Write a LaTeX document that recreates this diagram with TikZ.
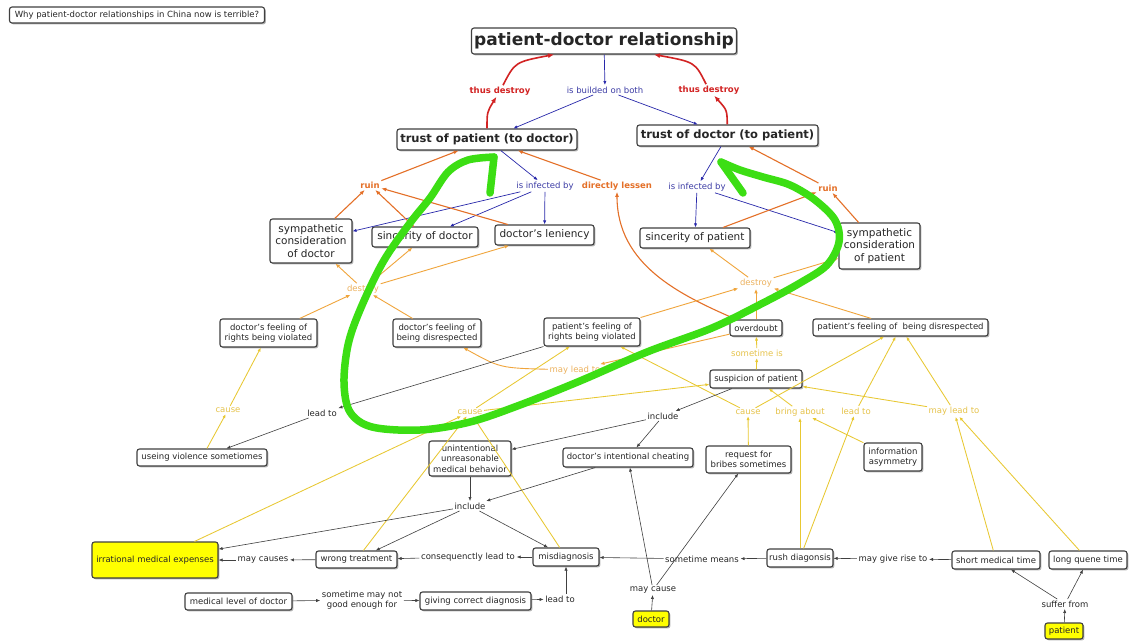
\documentclass[tikz,border=0pt]{standalone}
\usepackage{fontspec}
\setmainfont{DejaVu Sans}
\usetikzlibrary{arrows.meta,shadows,calc}
\definecolor{blueC}{RGB}{40,40,170}
\definecolor{blueT}{RGB}{60,60,165}
\definecolor{redC}{RGB}{210,35,35}
\definecolor{orC}{RGB}{228,112,40}
\definecolor{loC}{RGB}{240,165,60}
\definecolor{loT}{RGB}{236,178,95}
\definecolor{yC}{RGB}{232,200,50}
\definecolor{yT}{RGB}{230,195,75}
\definecolor{gC}{RGB}{60,222,20}
\definecolor{yfill}{RGB}{255,255,0}
\tikzset{
  box/.style={draw=black!75, line width=1.1pt, rounded corners=2.5pt, fill=white, align=center,
    inner sep=1pt, text=black!85, font=\fontsize{8.5}{10.5}\selectfont,
    drop shadow={shadow xshift=1.4pt, shadow yshift=-1.4pt, opacity=0.3, fill=black}},
  bigbox/.style={box, font=\fontsize{10.5}{12.6}\selectfont},
  tbox/.style={box, font=\bfseries\fontsize{11.5}{13}\selectfont},
  ybox/.style={box, fill=yfill},
  lab/.style={inner sep=1.5pt, align=center, font=\fontsize{8.5}{10}\selectfont, text=black!85},
  con/.style={-{Latex[length=4pt,width=3.2pt]}, line width=0.6pt},
  bl/.style={con, draw=blueC, line width=0.7pt},
  rdl/.style={draw=redC, line width=1.6pt, -{Latex[length=6pt,width=5pt]}},
  orl/.style={draw=orC, line width=1.1pt, -{Latex[length=5pt,width=4pt]}},
  lol/.style={draw=loC, line width=0.9pt, -{Latex[length=4.5pt,width=3.6pt]}},
  yl/.style={con, draw=yC, line width=0.85pt},
  bk/.style={con, draw=black!75},
  gs/.style={draw=gC, line width=7.5pt, line cap=round, line join=round}
}
\begin{document}
\begin{tikzpicture}[x=1pt,y=-1pt]
\useasboundingbox (0,0) rectangle (1129,640);
\fill[white] (0,0) rectangle (1129,640);

% ---------- concept boxes ----------
\node[box, minimum width=255pt, minimum height=16pt] (title) at (137,15) {Why patient-doctor relationships in China now is terrible?};
\node[box, minimum width=265pt, minimum height=26pt, font=\bfseries\fontsize{17}{19}\selectfont] (pdr) at (604,41) {patient-doctor relationship};
\node[tbox, minimum width=180pt, minimum height=21pt] (tp) at (487,139.5) {trust of patient (to doctor)};
\node[tbox, minimum width=181pt, minimum height=21pt] (td) at (727.5,135.5) {trust of doctor (to patient)};
\node[bigbox, minimum width=82pt, minimum height=44pt] (scd) at (311,241) {sympathetic\\consideration\\of doctor};
\node[bigbox, minimum width=106pt, minimum height=20pt] (sd) at (425,237) {sincerity of doctor};
\node[bigbox, minimum width=99pt, minimum height=20pt] (dl) at (544.5,235) {doctor's leniency};
\node[bigbox, minimum width=110pt, minimum height=20pt] (sp) at (695,238) {sincerity of patient};
\node[bigbox, minimum width=81pt, minimum height=46pt] (scp) at (879.5,246) {sympathetic\\consideration\\of patient};
\node[box, minimum width=97pt, minimum height=28pt] (dfrv) at (268.5,333) {doctor's feeling of\\rights being violated};
\node[box, minimum width=88pt, minimum height=28pt] (dfd) at (437,333) {doctor's feeling of\\being disrespected};
\node[box, minimum width=96pt, minimum height=28pt] (pfrv) at (592,332) {patient's feeling of\\rights being violated};
\node[box, minimum width=52pt, minimum height=16pt] (od) at (756,328) {overdoubt};
\node[box, minimum width=175pt, minimum height=17pt] (pfd) at (900.5,327.5) {patient's feeling of\ \ being disrespected};
\node[box, minimum width=92pt, minimum height=18pt] (sop) at (756,379) {suspicion of patient};
\node[box, minimum width=130pt, minimum height=17pt] (uvs) at (202,457.5) {useing violence sometiomes};
\node[box, minimum width=82pt, minimum height=35pt] (uumb) at (470,458.5) {unintentional\\unreasonable\\medical behavior};
\node[box, minimum width=130pt, minimum height=19pt] (dic) at (628,457.5) {doctor's intentional cheating};
\node[box, minimum width=85pt, minimum height=27pt] (rfb) at (748.5,459.5) {request for\\bribes sometimes};
\node[box, minimum width=58pt, minimum height=28pt] (ia) at (893,457) {information\\asymmetry};
\node[ybox, minimum width=126pt, minimum height=36pt] (ime) at (155,560) {irrational medical expenses};
\node[box, minimum width=81pt, minimum height=17pt] (wt) at (356.5,559.5) {wrong treatment};
\node[box, minimum width=66pt, minimum height=18pt] (md) at (566,557) {misdiagnosis};
\node[box, minimum width=66pt, minimum height=18pt] (rd) at (800,558) {rush diagonsis};
\node[box, minimum width=88pt, minimum height=18pt] (smt) at (996,560) {short medical time};
\node[box, minimum width=78pt, minimum height=18pt] (lqt) at (1088,560) {long quene time};
\node[box, minimum width=107pt, minimum height=17pt] (mld) at (238.5,601.5) {medical level of doctor};
\node[box, minimum width=111pt, minimum height=18pt] (gcd) at (475.5,601) {giving correct diagnosis};
\node[ybox, minimum width=36pt, minimum height=16pt] (doc) at (651,619) {doctor};
\node[ybox, minimum width=38pt, minimum height=16pt] (pat) at (1064,631) {patient};

% ---------- linking phrases ----------
\node[lab, text=blueT] (built) at (605,90) {is builded on both};
\node[lab, text=redC, font=\bfseries\fontsize{8.5}{10}\selectfont] (tdl) at (500,91) {thus destroy};
\node[lab, text=redC, font=\bfseries\fontsize{8.5}{10}\selectfont] (tdr) at (709,90) {thus destroy};
\node[lab, text=blueT] (infl) at (545,186) {is infected by};
\node[lab, text=blueT] (infr) at (697,187) {is infected by};
\node[lab, text=orC, font=\bfseries\fontsize{8.5}{10}\selectfont] (dles) at (617,186) {directly lessen};
\node[lab, text=orC, font=\bfseries\fontsize{8.5}{10}\selectfont] (ruinl) at (370,185) {ruin};
\node[lab, text=orC, font=\bfseries\fontsize{8.5}{10}\selectfont] (ruinr) at (828,188) {ruin};
\node[lab, text=loT] (desl) at (363,289) {destroy};
\node[lab, text=loT] (desr) at (756,283) {destroy};
\node[lab, text=yT] (stis) at (757,353) {sometime is};
\node[lab, text=loT] (mlto) at (575,370) {may lead to};
\node[lab, text=yT] (causel) at (228,410) {cause};
\node[lab] (lt1) at (322,413) {lead to};
\node[lab, text=yT] (causem) at (470,412) {cause};
\node[lab, text=yT] (causer) at (748,412) {cause};
\node[lab, text=yT] (bring) at (800,412) {bring about};
\node[lab, text=yT] (lt2) at (856,411) {lead to};
\node[lab, text=yT] (mayl) at (954,411) {may lead to};
\node[lab] (incu) at (663,416) {include};
\node[lab] (incl) at (470,506) {include};
\node[lab] (mcs) at (263,560) {may causes};
\node[lab] (clt) at (468,557) {consequenctly lead to};
\node[lab] (smm) at (702,559) {sometime means};
\node[lab] (mgr) at (893,559) {may give rise to};
\node[lab, font=\fontsize{8.5}{9.5}\selectfont] (smn) at (362,600) {sometime may not\\good enough for};
\node[lab] (lt3) at (560,599) {lead to};
\node[lab] (mc) at (653,590) {may cause};
\node[lab] (sf) at (1065,604) {suffer from};

% ---------- blue ----------
\draw[bl] (pdr) -- (built);
\draw[bl] (built) -- (tp);
\draw[bl] (built) -- (td);
\draw[bl] (tp) -- (infl);
\draw[bl] (infl) -- (scd);
\draw[bl] (infl) -- (sd);
\draw[bl] (infl) -- (dl);
\draw[bl] (td) -- (infr);
\draw[bl] (infr) -- (sp);
\draw[bl] (infr) -- (scp);

% ---------- red ----------
\draw[rdl] (tp) .. controls (487,112) .. (tdl);
\draw[rdl] (tdl) .. controls (515,62) .. ([xshift=-50pt]pdr.south);
\draw[rdl] (td) .. controls (727,110) .. (tdr);
\draw[rdl] (tdr) .. controls (695,62) .. ([xshift=50pt]pdr.south);

% ---------- orange ----------
\draw[orl] (ruinl) -- (tp);
\draw[orl] (scd) -- (ruinl);
\draw[orl] (sd) -- (ruinl);
\draw[orl] (dl) -- (ruinl);
\draw[orl] (dles) -- (tp);
\draw[orl] (od) .. controls (680,295) and (617,265) .. (dles);
\draw[orl] (ruinr) -- (td);
\draw[orl] (sp) -- (ruinr);
\draw[orl] (scp) -- (ruinr);

% ---------- light orange ----------
\draw[lol] (desl) -- (scd);
\draw[lol] (desl) -- (sd);
\draw[lol] (desl) -- (dl);
\draw[lol] (dfrv) -- (desl);
\draw[lol] (dfd) -- (desl);
\draw[lol] (desr) -- (sp);
\draw[lol] (desr) -- (scp);
\draw[lol] (pfrv) -- (desr);
\draw[lol] (od) -- (desr);
\draw[lol] (pfd) -- (desr);
\draw[lol] (od) -- (mlto);
\draw[lol] (mlto) .. controls (500,368) .. (dfd);

% ---------- yellow ----------
\draw[yl] (sop) -- (stis);
\draw[yl] (stis) -- (od);
\draw[yl] (causel) -- (dfrv);
\draw[yl] (uvs) -- (causel);
\draw[yl] (causem) -- (pfrv);
\draw[yl] (causem) -- (sop);
\draw[yl] (ime) -- (causem);
\draw[yl] (wt) -- (causem);
\draw[yl] (md) -- (causem);
\draw[yl] (causer) -- (pfrv);
\draw[yl] (causer) -- (pfd);
\draw[yl] (rfb) -- (causer);
\draw[yl] (bring) -- (sop);
\draw[yl] (ia) -- (bring);
\draw[yl] (rd) -- (bring);
\draw[yl] (rd) -- (lt2);
\draw[yl] (lt2) -- (pfd);
\draw[yl] (mayl) -- (pfd);
\draw[yl] (mayl) -- (sop);
\draw[yl] (smt) -- (mayl);
\draw[yl] (lqt) -- (mayl);

% ---------- black ----------
\draw[bk] (pfrv) -- (lt1);
\draw[bk] (lt1) -- (uvs);
\draw[bk] (sop) -- (incu);
\draw[bk] (incu) -- (uumb);
\draw[bk] (incu) -- (dic);
\draw[bk] (uumb) -- (incl);
\draw[bk] (dic) -- (incl);
\draw[bk] (incl) -- (ime);
\draw[bk] (incl) -- (wt);
\draw[bk] (incl) -- (md);
\draw[bk] (wt) -- (mcs);
\draw[bk] (mcs) -- (ime);
\draw[bk] (md) -- (clt);
\draw[bk] (clt) -- (wt);
\draw[bk] (rd) -- (smm);
\draw[bk] (smm) -- (md);
\draw[bk] (smt) -- (mgr);
\draw[bk] (mgr) -- (rd);
\draw[bk] (mld) -- (smn);
\draw[bk] (smn) -- (gcd);
\draw[bk] (gcd) -- (lt3);
\draw[bk] (lt3.north -| md.south) -- (md);
\draw[bk] (doc) -- (mc);
\draw[bk] (mc) -- (dic);
\draw[bk] (mc) -- (rfb);
\draw[bk] (pat) -- (sf);
\draw[bk] (sf) -- (smt);
\draw[bk] (sf) -- (lqt);

% ---------- green hand-drawn annotation ----------
\draw[gs] plot[smooth, tension=0.55] coordinates {(494,157) (468,160) (448,172) (430,198) (410,223) (383,262) (360,310) (348,345) (344,383) (350,412) (372,427) (420,430) (470,422) (520,405) (580,381) (647,352) (712,328) (763,303) (800,283) (827,265) (839,242) (835,220) (815,200) (790,185) (763,177) (740,170) (721,162)};
\draw[gs] (494,157) -- (490,193);
\draw[gs] (721,162) -- (743,193);
\end{tikzpicture}
\end{document}
